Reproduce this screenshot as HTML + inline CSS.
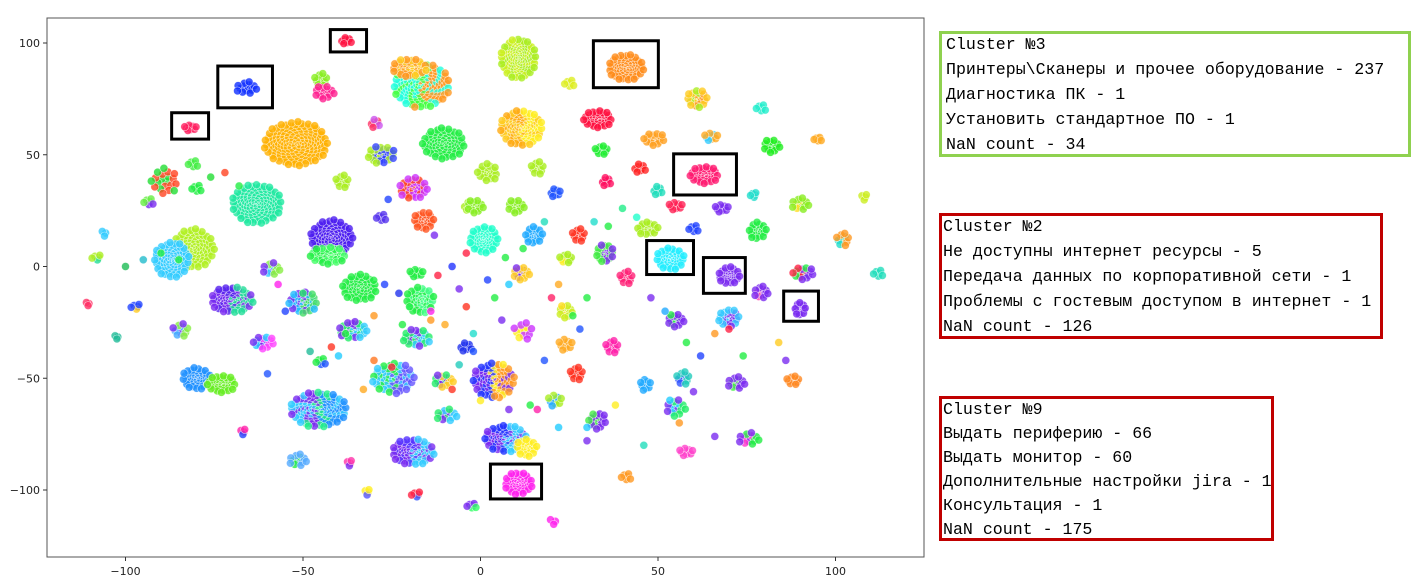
<!DOCTYPE html>
<html><head><meta charset="utf-8">
<style>
body{margin:0;width:1423px;height:580px;background:#fff;overflow:hidden;position:relative;font-family:"Liberation Sans",sans-serif}
svg{position:absolute;left:0;top:0}
.box{position:absolute;box-sizing:border-box;border:3px solid;font-family:"Liberation Mono","DejaVu Sans Mono",monospace;font-size:16.6px;color:#000;white-space:normal;overflow:visible}
.box div{height:25px;line-height:25px;white-space:pre}
</style></head><body>
<svg id="chart" width="1423" height="580"></svg>

<div class="box" style="left:939px;top:31px;width:472px;height:126px;border-color:#8fd14f;padding:0 0 0 4px">
<div style="margin-top:-2px">Cluster №3</div>
<div>Принтеры\Сканеры и прочее оборудование - 237</div>
<div>Диагностика ПК - 1</div>
<div>Установить стандартное ПО - 1</div>
<div>NaN count - 34</div>
</div>
<div class="box" style="left:939px;top:213px;width:444px;height:126px;border-color:#c00000;padding:0 0 0 1px">
<div style="margin-top:-2px">Cluster №2</div>
<div>Не доступны интернет ресурсы - 5</div>
<div>Передача данных по корпоративной сети - 1</div>
<div>Проблемы с гостевым доступом в интернет - 1</div>
<div>NaN count - 126</div>
</div>
<div class="box" style="left:939px;top:396px;width:335px;height:145px;border-color:#c00000;padding:0 0 0 1px">
<div style="margin-top:-1px;height:24px;line-height:24px">Cluster №9</div>
<div style="height:24px;line-height:24px">Выдать периферию - 66</div>
<div style="height:24px;line-height:24px">Выдать монитор - 60</div>
<div style="height:24px;line-height:24px">Дополнительные настройки jira - 1</div>
<div style="height:24px;line-height:24px">Консультация - 1</div>
<div style="height:24px;line-height:24px">NaN count - 175</div>
</div>

<script>
// ---- data (t-SNE coordinates) ----
const xTicks = [-100, -50, 0, 50, 100];
const yTicks = [100, 50, 0, -50, -100];
// cluster centres
const clusterX = [-52,-63,-81,-87,-42,-43,-70,-59,-50,-34,-17,-18,-80,-73,-24.5,-45.6,-19,-51.5,-16.6,-20,-10.4,-28,-19,-16,-3,-39,-28,-37.7,-66,-81.7,-45,-44,-29.6,-89,-81,-80,-93.5,-108,-106,-110.6,-97,-84.5,-102.5,-61,-36,-18,-4,-45,-67,-32,-18,-37,-2.5,-9.6,-10.4,
 10.7,41,25,61,79,11.5,33,49,65,82,95,34,63,45,35.5,2,16,21,50,77,90,108,-1.5,10,55,68,1,15,27.6,47,60,78,102,53.5,35,24,70,91,41,11.5,79,90,70,55,24,112,37,24,12,3.7,27,46.5,57,72,88,55,33,7,13,10.7,58,75.5,21,41,20.5];
const clusterY = [55,28,8,3,13,5,-15,-1,-16,-9.5,-15,-3,-50,-52.5,-50,-64,-83,-86.6,81,89,55,50,35,20.5,27,38,22,101,80,62,83.5,78,64,38,46,35,29,4,15,-16.6,-18,-28.5,-31.5,-34,-28.5,-32,-36,-42.5,-74,-101,-102,-88,-107,-66.5,-51,
 93,89,82,75,71,62,66,57,58,54,57,52,41,44,38,42,44,33,34,32,28,31,27,27,27,26,12,14,14,17,17,16,12,3.5,6,3.5,-4,-3,-5,-3,-11.5,-19,-23,-24,-20,-3,-36,-35,-29,-51,-48,-53,-50,-52,-51,-63,-69,-77,-81,-97,-83,-77,-60,-94,-114];
// cluster spreads (data units)
const clusterRX = [9,7,6,5,6,5,6,2.5,4,5,4,2,4,4,6,8,6,2.5,8,5,6,4,4,3,2,2,1.5,1.8,3,1.8,2,3,1.5,4,1.5,1.5,1.5,1.5,1,0.8,1.5,2.5,0.8,3,4,4,2,1.5,1,1,1.5,1,1.5,3,3,
 5,5,1.5,3,1.5,6,4,3,2,2.5,1.2,2,4,2,1.5,3,2,1.5,1.5,1,2.5,1.2,2.5,2.5,2,2,4,2.5,2,3,1.5,2.5,2,4,2.5,2,3,3,2,2.5,2,1.5,3,2.5,2,1.5,2,2,3,6,2,1.5,2,2.5,2,3,2.5,6,3,4,2,3,2,1.5,1.5];
const clusterRY = [10,9,9,8,8,4,6,3,5,6,6,2,5,4,7,8,6,3,10,4,7,4,5,4,2,3,2,1.5,3,1.5,3,3,2,6,2,2,2,1.5,1.5,1,1.5,3,1,3,4,4,2,2,1.5,1.5,1.5,1.5,1.5,3,3,
 9,6,2,4,2,8,4,3,2,3,1.2,2,4,2,2,4,3,2,2,1.5,3,1.5,3,3,2,2,6,4,3,3,2,4,3,5,4,2,4,3,3,3,3,3,4,3,3,2,3,3,4,8,3,3,3,3,2,4,4,6,4,5,2,3,3,2,1.5];
const clusterN = [150,120,90,80,90,40,70,14,40,55,45,10,45,40,60,120,70,14,140,50,75,30,35,25,8,12,6,8,14,10,12,16,8,20,6,6,6,5,3,3,5,12,3,18,35,28,8,6,4,4,5,4,6,14,16,
 120,70,6,25,6,100,40,18,10,16,6,12,40,8,8,20,12,9,8,5,14,4,16,16,10,10,60,22,12,22,6,22,12,45,30,12,35,18,12,16,14,22,26,16,16,6,12,10,12,80,12,10,12,14,12,16,18,80,24,50,10,14,10,6,3];
// cluster colours ('|' separates mixed hues)
const clusterColor = ["#ffb000","#1ee9a0","#b0f020","#33ccff","#4b1cf0","#22ee44|#44ff66","#7b2cf0|#5522ee|#22dd99","#33ccff|#7b2cf0|#88ee44","#22bbff|#7b2cf0|#44dd66","#22ee44","#22ee44|#44ff88","#22ee44","#1e90ff","#66ee22","#33ccff|#22ee44|#6655ff","#33ccff|#7b2cf0|#22ee88|#1e90ff","#7b2cf0|#5533ff|#33ccff","#22ee44|#55aaff",
 "#22ffdd|#44ff44|#ff9922","#ff9922|#ffcc22","#22ee44","#aaee22|#3344ff","#ff4422|#cc33ff","#ff5522","#aaee22","#aaee22","#5533ee","#ff1040","#1030ff","#ff2060","#88ee22","#ff2090","#ff3366|#cc55ee","#22dd33|#ff4422","#44ee44","#22ee44","#66ee44|#7b2cf0","#aaee22|#22dd99","#33ccff","#ff3366","#2244ff|#ffcc22","#44aaff|#7b2cf0|#88ee44","#22bb99","#7b2cf0|#22ccff|#ff44ff","#22ee66|#7b2cf0|#33ccff","#22ee66|#7b2cf0|#33ccff","#2233ee","#22ee44|#2255ff","#ff22aa|#2244ff","#ffee22|#5555ff","#ff2244|#3355ff","#ff33aa|#7b2cf0","#7b2cf0|#33ff66","#7b2cf0|#22ee66|#33ccff","#7b2cf0|#22ee66|#ffcc22",
 "#ccf020|#aaee22","#ff8c1a","#ddee22","#ffcc22|#aaee22|#ff9922","#22eecc","#ffcc22|#ffaa11|#ffee22","#ff1040","#ffa020","#33ccff|#ffaa22","#22ee22","#ffaa22","#22ee33","#ff1a70","#ff2222","#ff1060","#aaee22","#aaee22","#2255ff","#22ddbb","#22ddcc","#ffdd22|#88ee22","#ccee22","#88ee22","#88ee22","#ff2255","#7b2cf0","#22ffcc","#22aaff","#ff3322","#aaee22","#2244ff","#22ee44","#22ddcc|#ff9922","#22eeff","#44ee44|#7b2cf0","#ffee22|#aaee22","#7b2cf0","#ff2244|#22ee44|#7b2cf0","#ff2277","#7b2cf0|#ffcc22","#ff44aa|#7b2cf0","#7b2cf0","#33ccff|#7b2cf0","#22ee44|#7b2cf0","#ffdd22|#ccee22","#22ddbb","#ff22aa","#ffaa22","#ffee22|#cc33ff","#7b2cf0|#2233ff|#ffee22|#ff9922","#ff3322","#22aaff","#3355ff|#22ccbb","#44ee44|#7b2cf0","#ff8822","#22ccff|#7b2cf0|#22ee66","#44ee44|#7b2cf0","#7b2cf0|#2233ff|#33ccff","#ffee22","#ff22ee","#ff44cc","#ff33cc|#7b2cf0|#22ee44","#22aaff|#aaee22","#ff9922","#ff22ee"];
// scattered single points
const singleX = [-76,-72,-68,-60,-57,-55,-50,-48,-42,-38,-30,-27,-23,-20,-14,-12,-8,-6,-4,-2,2,4,6,8,12,18,20,22,26,28,30,32,36,40,44,48,52,58,62,66,70,74,84,86,-14,-10,-6,-2,-8,0,4,8,14,16,22,30,38,46,56,66,-26,-30,-22,-13,-4,7,18,-90,-95,-100,-85,30,60,-25,-40,-33];
const singleY = [40,42,36,-48,-8,-20,-12,-38,-36,-30,-42,-8,-12,-18,-20,-4,0,-10,-18,-30,-6,-14,-24,-8,8,20,-14,-8,-22,-28,-14,20,18,26,22,-14,-20,-34,-40,-30,-28,-40,-34,-42,-24,-26,-44,-38,-55,-60,-58,-64,-62,-64,-72,-78,-62,-80,-70,-76,30,-22,-26,14,6,4,-42,6,3,0,3,-72,-56,-45,-40,-55];
const singleColor = ["#22dd33","#ff4422","#22ee44","#2255ff","#ff22ee","#2244ff","#22ee66","#22bb99","#ff3322","#22ee44","#ff7722","#2244ff","#2233ee","#22ee44","#ff22ee","#ff2244","#2233ff","#7b2cf0","#ff3322","#22ddcc","#2244ff","#22ee44","#7b2cf0","#22ccff","#22ee44","#22ddbb","#ff2266","#ffaa22","#22ee44","#2255ff","#22ee44","#22ddcc","#22ee44","#22ee88","#22ffcc","#7b2cf0","#22aaff","#22ee44","#2244ff","#ff9922","#ff2244","#22ee44","#ffcc22","#7b2cf0","#ff9922","#ffaa22","#22ccbb","#2255ff","#ff3322","#ffee22","#ff9922","#7b2cf0","#22ee44","#ff22aa","#22ccff","#7b2cf0","#ffee22","#22ddbb","#ff9922","#7b2cf0","#2244ff","#ff9922","#22ee44","#7b2cf0","#ff2244","#22ee44","#2255ff","#22ee44","#22bbcc","#1ebb55","#22ee44","#22ccff","#7b2cf0","#ff2244","#22ccff","#ffaa22"];
// annotation boxes [x0,x1,y0,y1] in data units
const boxX0 = [-42.3,-74,-87,31.8,54.4,46.8,62.8,85.4,2.8];
const boxX1 = [-32.1,-58.6,-76.6,50.1,72.1,60,74.6,95.2,17.2];
const boxY0 = [96,71,57,80,32,-3.6,-12,-24.5,-104];
const boxY1 = [106,89.7,68.8,101,50.4,11.6,4,-11,-88.4];

// ---- axes ----
const L=47,R=924,T=18,B=557;
const sx = v => 480.5 + v*3.55;
const sy = v => 266.5 - v*2.235;
const NS="http://www.w3.org/2000/svg";
const svg=document.getElementById('chart');
function mk(tag,attrs,parent){const e=document.createElementNS(NS,tag);for(const k in attrs)e.setAttribute(k,attrs[k]);(parent||svg).appendChild(e);return e;}

const clip=mk('clipPath',{id:'pc'});mk('rect',{x:L,y:T,width:R-L,height:B-T},clip);
const gPts=mk('g',{'clip-path':'url(#pc)'});



function dot(x,y,c){
  const e=mk('circle',{cx:x.toFixed(1),cy:y.toFixed(1),r:4,fill:c,'fill-opacity':0.8,stroke:'#fff','stroke-width':0.6,'stroke-opacity':0.7},gPts);
  
  
}
for(let c=0;c<clusterX.length;c++){
  const n=clusterN[c], cols=clusterColor[c].split('|');
  for(let i=0;i<n;i++){
    const r=Math.sqrt((i+0.5)/n), th=i*2.39996;
    const x=sx(clusterX[c]+clusterRX[c]*r*Math.cos(th));
    const y=sy(clusterY[c]+clusterRY[c]*r*Math.sin(th));
    const col=cols[Math.floor((Math.cos(th)*0.5+0.5)*cols.length*0.999+ (i%3===0?1:0))%cols.length];
    dot(x,y,col);
  }
}
for(let i=0;i<singleX.length;i++) dot(sx(singleX[i]),sy(singleY[i]),singleColor[i]);

for(let i=0;i<boxX0.length;i++){
  const x0=sx(boxX0[i]),x1=sx(boxX1[i]),y0=sy(boxY1[i]),y1=sy(boxY0[i]);
  const b=mk('rect',{x:x0,y:y0,width:x1-x0,height:y1-y0,fill:'none',stroke:'#000','stroke-width':3});
  
  
}

const fr=mk('rect',{x:L,y:T,width:R-L,height:B-T,fill:'none',stroke:'#555','stroke-width':1});



xTicks.forEach(v=>{
  const x=sx(v);
  mk('line',{x1:x,x2:x,y1:B,y2:B+4,stroke:'#333'});
  const t=mk('text',{x:x,y:B+18,'text-anchor':'middle','font-size':11,fill:'#222','font-family':'DejaVu Sans, sans-serif'});
  t.textContent=v<0?'\u2212'+(-v):String(v);
  
  
});
yTicks.forEach(v=>{
  const y=sy(v);
  mk('line',{x1:L-4,x2:L,y1:y,y2:y,stroke:'#333'});
  const t=mk('text',{x:L-7,y:y+4,'text-anchor':'end','font-size':11,fill:'#222','font-family':'DejaVu Sans, sans-serif'});
  t.textContent=v<0?'\u2212'+(-v):String(v);
  
  
});
</script>
</body></html>
